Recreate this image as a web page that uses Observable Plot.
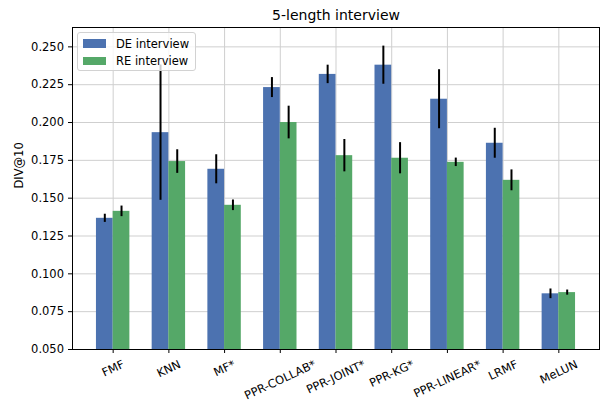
<!DOCTYPE html>
<html>
<head>
<meta charset="utf-8">
<script src="https://cdn.jsdelivr.net/npm/d3@7"></script>
<script src="https://cdn.jsdelivr.net/npm/@observablehq/plot@0.6"></script>
<style>
  html, body { margin: 0; padding: 0; background: #fff; }
  #wrap { position: relative; width: 611px; height: 403px; font-family: "DejaVu Sans", sans-serif; }
  #legend { position: absolute; left: 76.5px; top: 32px; width: 119.5px; height: 39px; box-sizing: border-box;
    border: 1px solid #d2d2d2; border-radius: 3px; background: rgba(255,255,255,0.8); }
  .sw { position: absolute; left: 5px; width: 23.5px; height: 8.7px; }
  .lt { position: absolute; left: 38.5px; font-size: 11.5px; line-height: 14px; color: #000; white-space: nowrap; }
</style>
</head>
<body>
<div id="wrap"></div>
<script>
const categories = ["FMF", "KNN", "MF*", "PPR-COLLAB*", "PPR-JOINT*", "PPR-KG*", "PPR-LINEAR*", "LRMF", "MeLUN"];
const seriesNames = ["DE interview", "RE interview"];
const seriesColors = ["#4c72b0", "#55a868"];
const deMean = [0.1367, 0.1933, 0.1691, 0.2231, 0.2318, 0.2379, 0.2154, 0.1863, 0.0868];
const deErr  = [0.0027, 0.0447, 0.0096, 0.0066, 0.0061, 0.0126, 0.0195, 0.0099, 0.0032];
const reMean = [0.1413, 0.1742, 0.1453, 0.2000, 0.1781, 0.1764, 0.1737, 0.1618, 0.0876];
const reErr  = [0.0035, 0.0078, 0.0035, 0.0108, 0.0107, 0.0103, 0.0028, 0.0069, 0.0017];
const yTicks = [0.050, 0.075, 0.100, 0.125, 0.150, 0.175, 0.200, 0.225, 0.250];
const title = "5-length interview";
const yLabel = "DIV@10";

const barW = 0.3;
const rows = [];
categories.forEach((c, i) => {
  rows.push({i, cat: c, series: seriesNames[0], mean: deMean[i], err: deErr[i], off: -barW / 2});
  rows.push({i, cat: c, series: seriesNames[1], mean: reMean[i], err: reErr[i], off: barW / 2});
});
const idx = categories.map((_, i) => i);
const lo = -barW, hi = categories.length - 1 + barW;
const pad = (hi - lo) * 0.05;
const FS = 11.5;
const rad = 25 * Math.PI / 180;
const wrap = document.getElementById("wrap");

function build(dys) {
  const labelMarks = categories.map((c, i) =>
    Plot.text([c], {x: () => i, frameAnchor: "bottom", dy: dys[i], rotate: -25, className: "xlab",
      textAnchor: "middle", lineAnchor: "middle", fontSize: FS, fill: "#000"}));
  return Plot.plot({
    width: 611, height: 403,
    marginLeft: 72, marginRight: 12, marginTop: 27, marginBottom: 54,
    style: {fontFamily: "DejaVu Sans, sans-serif", fontSize: FS + "px", color: "#000", background: "#fff"},
    x: {type: "linear", domain: [lo - pad, hi + pad]},
    y: {domain: [0.05, 0.2628]},
    color: {domain: seriesNames, range: seriesColors},
    marks: [
      Plot.gridX(idx, {stroke: "#cfcfcf", strokeOpacity: 1, strokeWidth: 1}),
      Plot.gridY(yTicks, {stroke: "#cfcfcf", strokeOpacity: 1, strokeWidth: 1}),
      Plot.rectY(rows, {x1: d => d.i + d.off - barW / 2, x2: d => d.i + d.off + barW / 2,
        y1: () => 0, y2: "mean", fill: "series", clip: true}),
      Plot.ruleX(rows, {x: d => d.i + d.off, y1: d => d.mean - d.err, y2: d => d.mean + d.err,
        stroke: "#000", strokeWidth: 2}),
      Plot.frame({stroke: "#000", strokeWidth: 1}),
      Plot.axisY({ticks: yTicks, tickFormat: d3.format(".3f"), tickSize: 4, tickPadding: 4.5, label: null, fontSize: FS}),
      Plot.axisX({ticks: idx, tickFormat: () => "", tickSize: 4, label: null}),
      ...labelMarks,
      Plot.text([title], {frameAnchor: "top", dy: -11.5, lineAnchor: "middle", fontSize: 14, fill: "#000"}),
      Plot.text([yLabel], {frameAnchor: "left", dx: -53, rotate: -90, lineAnchor: "middle", fontSize: FS, fill: "#000"})
    ]
  });
}

// first pass: measure label lengths as rendered, then place each rotated label below its tick
const probe = build(categories.map(() => 20));
wrap.appendChild(probe);
const lens = Array.from(probe.querySelectorAll("g.xlab text")).map(t => t.getComputedTextLength());
probe.remove();
const dys = lens.map(w => 9 + (w * Math.sin(rad) + FS * Math.cos(rad)) / 2);
wrap.appendChild(build(dys));

const lg = document.createElement("div");
lg.id = "legend";
seriesNames.forEach((s, k) => {
  const sw = document.createElement("div");
  sw.className = "sw";
  sw.style.background = seriesColors[k];
  sw.style.top = (6 + k * 17.6) + "px";
  lg.appendChild(sw);
  const t = document.createElement("div");
  t.className = "lt";
  t.textContent = s;
  t.style.top = (3.5 + k * 17.6) + "px";
  lg.appendChild(t);
});
wrap.appendChild(lg);
</script>
</body>
</html>
